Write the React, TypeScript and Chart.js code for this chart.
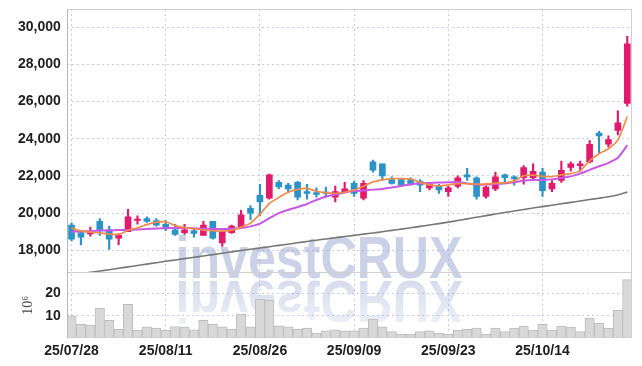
import React, { useEffect, useRef } from 'react';
import { Chart, registerables } from 'chart.js';

Chart.register(...registerables);

const dates = [
  '25/07/28', '25/07/29', '25/07/30', '25/07/31', '25/08/01', '25/08/04', '25/08/05', '25/08/06', '25/08/07', '25/08/08',
  '25/08/11', '25/08/12', '25/08/13', '25/08/14', '25/08/18', '25/08/19', '25/08/20', '25/08/21', '25/08/22', '25/08/25',
  '25/08/26', '25/08/27', '25/08/28', '25/08/29', '25/09/01', '25/09/02', '25/09/03', '25/09/04', '25/09/05', '25/09/08',
  '25/09/09', '25/09/10', '25/09/11', '25/09/12', '25/09/15', '25/09/16', '25/09/17', '25/09/18', '25/09/19', '25/09/22',
  '25/09/23', '25/09/24', '25/09/25', '25/09/26', '25/09/29', '25/09/30', '25/10/01', '25/10/02', '25/10/10', '25/10/13',
  '25/10/14', '25/10/15', '25/10/16', '25/10/17', '25/10/20', '25/10/21', '25/10/22', '25/10/23', '25/10/24', '25/10/27',
];

const opens = [
  19350, 18950, 18880, 19550, 19100, 18650, 19000, 19600, 19700, 19600,
  19400, 19100, 18950, 19050, 18800, 19550, 18400, 18950, 19250, 20250,
  20950, 20800, 21650, 21500, 21650, 21150, 21100, 21100, 20850, 21150,
  21600, 20800, 22750, 22650, 21800, 21800, 21800, 21700, 21350, 21450,
  21150, 21450, 22050, 21900, 20900, 21300, 22050, 21950, 21900, 21900,
  22200, 21300, 21750, 22450, 22550, 22750, 24300, 23700, 24450, 25900,
];
const highs = [
  19480, 18970, 19250, 19700, 19300, 18900, 20200, 19850, 19800, 19700,
  19600, 19400, 19400, 19200, 19550, 19550, 19050, 19350, 20150, 20400,
  21550, 22100, 21750, 21600, 21700, 21550, 21350, 21400, 21450, 21650,
  21700, 21750, 22850, 22650, 21950, 21850, 21900, 21800, 21650, 21550,
  21450, 22000, 22400, 21950, 21450, 22200, 22100, 22000, 22550, 22650,
  22400, 21750, 22800, 22750, 22800, 23900, 24400, 24150, 25500, 29500,
];
const lows = [
  18500, 18300, 18750, 18800, 18050, 18300, 19000, 19400, 19500, 19300,
  19050, 18800, 18850, 18700, 18800, 18600, 18200, 18900, 19200, 19650,
  19850, 20750, 21300, 21100, 20700, 20750, 20850, 20850, 20600, 21100,
  20900, 20700, 22200, 21750, 21550, 21500, 21500, 21150, 21250, 21050,
  20900, 21350, 21750, 20750, 20800, 21200, 21600, 21500, 21550, 21800,
  20900, 21150, 21650, 22250, 22250, 22700, 23250, 23550, 24200, 25750,
];
const closes = [
  18600, 18700, 19000, 19050, 18600, 18800, 19800, 19650, 19550, 19350,
  19150, 18850, 19100, 18900, 19350, 18650, 19000, 19300, 19900, 20000,
  20600, 22050, 21400, 21300, 20850, 21050, 21000, 21050, 21150, 21300,
  21050, 21600, 22300, 22000, 21600, 21500, 21550, 21500, 21550, 21250,
  21350, 21900, 21950, 20900, 21400, 21950, 21900, 21850, 22450, 22250,
  21200, 21600, 22300, 22650, 22650, 23700, 24150, 23950, 24850, 29100,
];

// volume in millions of shares
const volumes = [
  9.9, 6.2, 5.8, 13.3, 8.0, 4.0, 15.1, 3.6, 5.1, 4.5,
  3.6, 5.2, 4.9, 3.7, 8.0, 6.3, 5.1, 4.0, 10.7, 5.1,
  17.3, 16.8, 5.5, 5.1, 4.0, 4.5, 2.3, 3.3, 3.7, 3.3,
  3.3, 4.5, 8.5, 5.1, 2.9, 1.8, 1.8, 2.9, 3.3, 2.3,
  1.8, 3.6, 4.0, 4.5, 1.8, 4.5, 2.9, 4.5, 5.4, 3.6,
  6.2, 3.6, 5.4, 4.9, 2.9, 8.9, 6.7, 4.5, 12.4, 26.1,
];

const ma5 = [
  19189, 19039, 18973, 18935, 18865, 18850, 19065, 19206, 19379, 19514,
  19530, 19325, 19217, 19162, 19082, 19055, 19027, 19082, 19244, 19460,
  19946, 20514, 20838, 21119, 21270, 21325, 21173, 21098, 21065, 21119,
  21244, 21444, 21676, 21784, 21855, 21855, 21838, 21650, 21514, 21460,
  21514, 21584, 21584, 21552, 21552, 21606, 21622, 21730, 22000, 22038,
  21973, 21962, 22054, 22119, 22270, 22811, 23190, 23460, 23919, 25190,
];
const ma20 = [
  18999, 19011, 19027, 19055, 19065, 19082, 19093, 19119, 19136, 19163,
  19190, 19190, 19190, 19173, 19152, 19152, 19136, 19152, 19190, 19282,
  19433, 19730, 20000, 20173, 20325, 20487, 20703, 20892, 21000, 21109,
  21179, 21217, 21260, 21298, 21379, 21460, 21552, 21606, 21622, 21638,
  21650, 21676, 21595, 21530, 21530, 21568, 21595, 21650, 21747, 21784,
  21784, 21811, 21892, 21973, 22119, 22325, 22514, 22703, 22973, 23649,
];
const maLong = [
  16677, 16742, 16812, 16882, 16952, 17028, 17104, 17179, 17255, 17330,
  17406, 17476, 17547, 17622, 17692, 17763, 17838, 17914, 17990, 18055,
  18120, 18190, 18260, 18325, 18401, 18471, 18541, 18606, 18671, 18736,
  18801, 18866, 18931, 18995, 19066, 19136, 19206, 19282, 19358, 19433,
  19514, 19595, 19687, 19773, 19860, 19946, 20027, 20109, 20190, 20271,
  20347, 20422, 20498, 20574, 20649, 20725, 20800, 20876, 20973, 21125,
];

const priceTicks = [18000, 20000, 22000, 24000, 26000, 28000, 30000];
const volumeTicks = [10, 20];
const dateTickEvery = 10;
const watermarkText = 'investCRUX';
const volumeUnitLabel = '10\u2076';

const UP = '#e2196c';
const DOWN = '#2b93c8';
const GRID = '#c9cde0';
const FONT_FAMILY = '"Liberation Sans", Arial, sans-serif';
const Y_TICK_FONT = { family: FONT_FAMILY, size: 14, weight: 'bold' as const, lineHeight: 1 };
const X_TICK_FONT = { family: FONT_FAMILY, size: 14, weight: 'bold' as const, lineHeight: 1.2 };

const candleColors = closes.map((c, i) => (c >= opens[i] ? UP : DOWN));

const clipPanelPlugin = {
  id: 'clipPanel',
  beforeDatasetDraw(chart: any, args: any) {
    const ds = chart.data.datasets[args.index];
    const s = chart.scales[ds.yAxisID];
    const a = chart.chartArea;
    chart.ctx.save();
    chart.ctx.beginPath();
    chart.ctx.rect(a.left, s.top, a.right - a.left, s.bottom - s.top);
    chart.ctx.clip();
  },
  afterDatasetDraw(chart: any) {
    chart.ctx.restore();
  },
};

const watermarkPlugin = {
  id: 'watermark',
  beforeDatasetsDraw(chart: any) {
    const { ctx } = chart;
    const y = chart.scales.y;
    ctx.save();
    ctx.font = 'bold 60px "Liberation Sans", Arial, sans-serif';
    const w = ctx.measureText(watermarkText).width;
    const targetW = 287;
    const sx = targetW / w;
    const x0 = chart.width / 2 - 2 - targetW / 2;
    const base = y.bottom + 6;
    ctx.textBaseline = 'alphabetic';
    ctx.translate(x0, base);
    ctx.scale(sx, 1);
    ctx.fillStyle = 'rgba(160,172,212,0.55)';
    ctx.fillText(watermarkText, 0, 0);
    ctx.setTransform(1, 0, 0, 1, 0, 0);
    ctx.translate(x0, base + 3);
    ctx.scale(sx, -1);
    const g = ctx.createLinearGradient(0, 0, 0, -44);
    g.addColorStop(0, 'rgba(160,172,212,0.42)');
    g.addColorStop(1, 'rgba(160,172,212,0.18)');
    ctx.fillStyle = g;
    ctx.fillText(watermarkText, 0, 0);
    ctx.restore();
  },
};

const framePlugin = {
  id: 'frame',
  afterDraw(chart: any) {
    const { ctx, chartArea: a } = chart;
    const y = chart.scales.y;
    ctx.save();
    ctx.lineWidth = 1;
    ctx.strokeStyle = '#cfcfcf';
    ctx.beginPath();
    ctx.moveTo(a.left, Math.round(a.top) + 0.5);
    ctx.lineTo(a.right, Math.round(a.top) + 0.5);
    ctx.moveTo(Math.round(a.right) - 0.5, a.top);
    ctx.lineTo(Math.round(a.right) - 0.5, a.bottom);
    ctx.moveTo(a.left, Math.round(y.bottom) + 0.5);
    ctx.lineTo(a.right, Math.round(y.bottom) + 0.5);
    ctx.moveTo(a.left, Math.round(a.bottom) - 0.5);
    ctx.lineTo(a.right, Math.round(a.bottom) - 0.5);
    ctx.stroke();
    ctx.strokeStyle = '#b8b8b8';
    ctx.beginPath();
    ctx.moveTo(Math.round(a.left) + 0.5, a.top);
    ctx.lineTo(Math.round(a.left) + 0.5, a.bottom);
    ctx.stroke();
    ctx.restore();
  },
};

export default function App() {
  const canvasRef = useRef<HTMLCanvasElement | null>(null);

  useEffect(() => {
    const canvas = canvasRef.current;
    if (!canvas) return;
    const chart = new Chart(canvas, {
      type: 'bar',
      data: {
        labels: dates,
        datasets: [
          {
            type: 'line',
            label: 'MA5',
            data: ma5,
            yAxisID: 'y',
            borderColor: '#f08b4c',
            borderWidth: 1.7,
            pointRadius: 0,
            tension: 0.2,
            order: 0,
          } as any,
          {
            type: 'line',
            label: 'MA20',
            data: ma20,
            yAxisID: 'y',
            borderColor: '#c957e4',
            borderWidth: 2,
            pointRadius: 0,
            tension: 0.2,
            order: 1,
          } as any,
          {
            type: 'line',
            label: 'MA120',
            data: maLong,
            yAxisID: 'y',
            borderColor: '#777777',
            borderWidth: 1.6,
            pointRadius: 0,
            tension: 0.2,
            order: 2,
          } as any,
          {
            type: 'bar',
            label: 'body',
            data: opens.map((o, i) => [o, closes[i]]),
            yAxisID: 'y',
            backgroundColor: candleColors,
            barThickness: 6,
            minBarLength: 1.5,
            grouped: false,
            order: 3,
          } as any,
          {
            type: 'bar',
            label: 'wick',
            data: lows.map((l, i) => [l, highs[i]]),
            yAxisID: 'y',
            backgroundColor: candleColors,
            barThickness: 1.5,
            grouped: false,
            order: 4,
          } as any,
          {
            type: 'bar',
            label: 'volume',
            data: volumes,
            yAxisID: 'yv',
            backgroundColor: '#d8d8d8',
            borderColor: '#bdbdbd',
            borderWidth: 1,
            borderSkipped: 'bottom',
            barPercentage: 1,
            categoryPercentage: 1,
            grouped: false,
            order: 5,
          } as any,
        ],
      },
      options: {
        responsive: false,
        animation: false,
        layout: { padding: { left: 16, right: 10, top: 0, bottom: 1 } },
        plugins: {
          legend: { display: false },
          tooltip: { enabled: false },
        },
        scales: {
          x: {
            type: 'category',
            offset: true,
            grid: { color: GRID, offset: false, drawTicks: false, lineWidth: 1 },
            border: { display: false, dash: [2, 3] },
            ticks: {
              autoSkip: false,
              maxRotation: 0,
              padding: 5,
              color: '#1e1e1e',
              font: X_TICK_FONT,
            },
            afterBuildTicks: (scale: any) => {
              scale.ticks = scale.ticks.filter((t: any) => t.value % dateTickEvery === 0);
            },
          },
          yv: {
            type: 'linear',
            position: 'left',
            stack: 'panels',
            stackWeight: 1,
            min: 0,
            max: 29.3,
            grid: { color: GRID, drawTicks: true, tickLength: 4, tickColor: 'rgba(0,0,0,0)' },
            border: { display: false, dash: [2, 3] },
            title: {
              display: true,
              text: volumeUnitLabel,
              color: '#444',
              font: { family: '"Liberation Serif", "DejaVu Serif", serif', size: 14 },
              padding: { top: 4, bottom: 2 },
            },
            ticks: {
              padding: 2,
              color: '#1e1e1e',
              font: Y_TICK_FONT,
            },
            afterBuildTicks: (scale: any) => {
              scale.ticks = volumeTicks.map((v) => ({ value: v }));
            },
          },
          y: {
            type: 'linear',
            position: 'left',
            stack: 'panels',
            stackWeight: 4,
            min: 16810,
            max: 30975,
            grid: { color: GRID, drawTicks: true, tickLength: 4, tickColor: 'rgba(0,0,0,0)' },
            border: { display: false, dash: [2, 3] },
            ticks: {
              padding: 2,
              color: '#1e1e1e',
              font: Y_TICK_FONT,
              callback: (v: any) => Number(v).toLocaleString('en-US'),
            },
            afterBuildTicks: (scale: any) => {
              scale.ticks = priceTicks.map((v) => ({ value: v }));
            },
          },
        } as any,
      },
      plugins: [clipPanelPlugin, watermarkPlugin, framePlugin],
    });
    return () => chart.destroy();
  }, []);

  return (
    <div style={{ position: 'absolute', left: 0, top: 0, width: 642, height: 366 }}>
      <canvas ref={canvasRef} width={642} height={366} style={{ display: 'block' }} />
    </div>
  );
}
